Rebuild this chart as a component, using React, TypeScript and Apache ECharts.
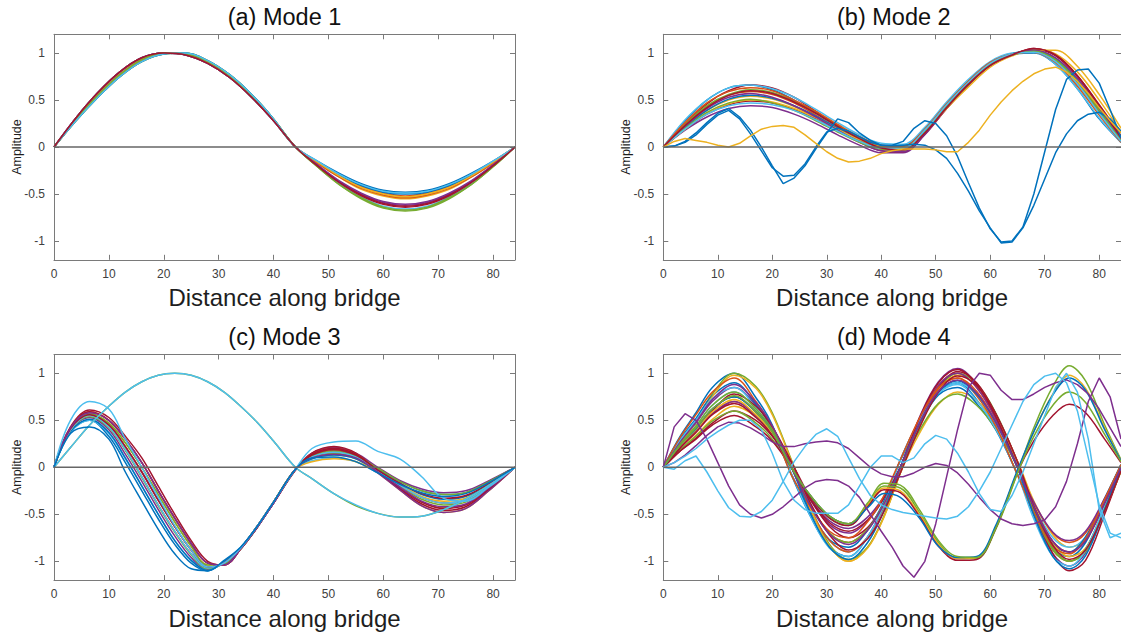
import React, { useEffect, useRef } from "react";
import * as echarts from "echarts";

// MATLAB default colour order
const COLORS = ["#0072BD", "#D95319", "#EDB120", "#7E2F8E", "#77AC30", "#4DBEEE", "#A2142F"];

const X4 = [0, 4, 8, 12, 16, 20, 24, 28, 32, 36, 40, 44, 48, 52, 56, 60, 64, 68, 72, 76, 80, 84];
const X2 = [0, 2, 4, 6, 8, 10, 12, 14, 16, 18, 20, 22, 24, 26, 28, 30, 32, 34, 36, 38, 40, 42, 44, 46, 48, 50, 52, 54, 56, 58, 60, 62, 64, 66, 68, 70, 72, 74, 76, 78, 80, 82, 84];
const X3 = [0, 3, 6.5, 10, 13, 16, 19, 22, 25, 28, 31, 34, 37, 40, 44, 47, 51, 55, 59, 63, 67, 71, 75, 79, 84];
const X5 = [0, 3, 6, 9, 13, 17, 20, 23.5, 27, 30.5, 34, 37.5, 40.5, 43.5, 47, 50.5, 54, 57.5, 61, 65, 68, 71.5, 74.5, 77.5, 81, 84];
const X_TICKS = [0, 10, 20, 30, 40, 50, 60, 70, 80];
const Y_TICKS = [-1, -0.5, 0, 0.5, 1];
const TITLES = ["(a) Mode 1", "(b) Mode 2", "(c) Mode 3", "(d) Mode 4"];
const X_NAME = "Distance along bridge";
const Y_NAME = "Amplitude";

// ---- Mode 1 (x = X4) ----
const mode1Lines = [
  [0, 0.31, 0.58, 0.80, 0.95, 1.0, 0.98, 0.89, 0.74, 0.53, 0.28, 0.0, -0.15, -0.28, -0.39, -0.46, -0.48, -0.46, -0.39, -0.28, -0.15, 0],
  [0, 0.29, 0.55, 0.77, 0.93, 1.0, 0.99, 0.91, 0.76, 0.55, 0.29, 0.0, -0.16, -0.31, -0.42, -0.49, -0.52, -0.49, -0.42, -0.31, -0.16, 0],
  [0, 0.28, 0.53, 0.75, 0.91, 0.99, 1.0, 0.92, 0.77, 0.56, 0.30, 0.0, -0.17, -0.32, -0.45, -0.52, -0.55, -0.52, -0.45, -0.32, -0.17, 0],
  [0, 0.29, 0.55, 0.77, 0.93, 1.0, 0.99, 0.91, 0.76, 0.55, 0.29, 0.0, -0.19, -0.37, -0.50, -0.59, -0.62, -0.59, -0.50, -0.37, -0.19, 0],
  [0, 0.28, 0.53, 0.75, 0.91, 0.99, 1.0, 0.92, 0.77, 0.56, 0.30, 0.0, -0.21, -0.40, -0.55, -0.65, -0.68, -0.65, -0.55, -0.40, -0.21, 0],
  [0, 0.31, 0.58, 0.80, 0.95, 1.0, 0.98, 0.89, 0.74, 0.53, 0.28, 0.0, -0.20, -0.39, -0.53, -0.63, -0.66, -0.63, -0.53, -0.39, -0.20, 0],
  [0, 0.29, 0.55, 0.77, 0.93, 1.0, 0.99, 0.91, 0.76, 0.55, 0.29, 0.0, -0.20, -0.37, -0.51, -0.60, -0.63, -0.60, -0.51, -0.37, -0.20, 0],
  [0, 0.28, 0.53, 0.75, 0.91, 0.99, 1.0, 0.92, 0.77, 0.56, 0.30, 0.0, -0.16, -0.30, -0.41, -0.48, -0.50, -0.48, -0.41, -0.30, -0.16, 0],
  [0, 0.31, 0.58, 0.80, 0.95, 1.0, 0.98, 0.89, 0.74, 0.53, 0.28, 0.0, -0.17, -0.32, -0.44, -0.51, -0.54, -0.51, -0.44, -0.32, -0.17, 0],
  [0, 0.29, 0.55, 0.77, 0.93, 1.0, 0.99, 0.91, 0.76, 0.55, 0.29, 0.0, -0.16, -0.31, -0.43, -0.50, -0.53, -0.50, -0.43, -0.31, -0.16, 0],
  [0, 0.31, 0.58, 0.80, 0.95, 1.0, 0.98, 0.89, 0.74, 0.53, 0.28, 0.0, -0.19, -0.36, -0.49, -0.58, -0.61, -0.58, -0.49, -0.36, -0.19, 0],
  [0, 0.29, 0.55, 0.77, 0.93, 1.0, 0.99, 0.91, 0.76, 0.55, 0.29, 0.0, -0.21, -0.40, -0.54, -0.64, -0.67, -0.64, -0.54, -0.40, -0.21, 0],
  [0, 0.28, 0.53, 0.75, 0.91, 0.99, 1.0, 0.92, 0.77, 0.56, 0.30, 0.0, -0.15, -0.29, -0.40, -0.47, -0.49, -0.47, -0.40, -0.29, -0.15, 0],
  [0, 0.31, 0.58, 0.80, 0.95, 1.0, 0.98, 0.89, 0.74, 0.53, 0.28, 0.0, -0.20, -0.38, -0.52, -0.61, -0.64, -0.61, -0.52, -0.38, -0.20, 0],
];
const mode1Colors = [0, 1, 2, 3, 4, 5, 6, 0, 1, 2, 3, 4, 5, 6];

// ---- Mode 2 (bundle x = X4, outliers x = X2) ----
const mode2Lines = [
  [0, 0.28, 0.50, 0.63, 0.66, 0.61, 0.50, 0.36, 0.22, 0.10, 0.02, 0.01, 0.20, 0.47, 0.71, 0.90, 0.99, 1.00, 0.88, 0.62, 0.30, 0.05],
  [0, 0.24, 0.46, 0.60, 0.66, 0.63, 0.53, 0.38, 0.22, 0.08, -0.02, -0.03, 0.15, 0.42, 0.67, 0.87, 0.98, 1.05, 0.98, 0.76, 0.45, 0.12],
  [0, 0.23, 0.43, 0.55, 0.59, 0.56, 0.47, 0.34, 0.20, 0.08, 0.0, -0.01, 0.18, 0.45, 0.69, 0.89, 0.99, 1.03, 0.94, 0.70, 0.38, 0.08],
  [0, 0.21, 0.39, 0.50, 0.54, 0.51, 0.43, 0.31, 0.18, 0.07, -0.01, -0.02, 0.17, 0.44, 0.68, 0.88, 0.98, 1.04, 0.99, 0.80, 0.50, 0.16],
  [0, 0.18, 0.32, 0.41, 0.44, 0.42, 0.35, 0.25, 0.13, 0.02, -0.06, -0.06, 0.13, 0.41, 0.66, 0.87, 0.98, 1.02, 0.93, 0.68, 0.36, 0.06],
  [0, 0.24, 0.44, 0.56, 0.61, 0.58, 0.49, 0.37, 0.23, 0.10, 0.01, 0.0, 0.19, 0.46, 0.70, 0.89, 0.99, 1.02, 0.92, 0.67, 0.36, 0.07],
  [0, 0.29, 0.50, 0.63, 0.66, 0.62, 0.53, 0.40, 0.26, 0.13, 0.04, 0.03, 0.21, 0.48, 0.72, 0.91, 1.0, 1.01, 0.88, 0.62, 0.31, 0.05],
  [0, 0.19, 0.35, 0.45, 0.49, 0.47, 0.40, 0.30, 0.18, 0.06, -0.04, -0.05, 0.14, 0.41, 0.66, 0.87, 0.98, 1.04, 0.97, 0.75, 0.43, 0.10],
  [0, 0.21, 0.39, 0.51, 0.55, 0.52, 0.44, 0.33, 0.20, 0.08, -0.01, -0.02, 0.17, 0.44, 0.68, 0.88, 0.99, 1.03, 0.94, 0.71, 0.40, 0.08],
  [0, 0.26, 0.47, 0.59, 0.63, 0.60, 0.50, 0.38, 0.24, 0.11, 0.02, 0.01, 0.19, 0.46, 0.70, 0.90, 0.99, 1.01, 0.90, 0.65, 0.34, 0.05],
  [0, 0.19, 0.36, 0.46, 0.50, 0.48, 0.41, 0.31, 0.19, 0.08, 0.0, -0.01, 0.15, 0.41, 0.64, 0.85, 0.97, 1.03, 1.03, 0.86, 0.56, 0.20],
  [0, 0.22, 0.41, 0.53, 0.57, 0.53, 0.44, 0.32, 0.18, 0.05, -0.04, -0.05, 0.14, 0.42, 0.67, 0.87, 0.98, 1.03, 0.95, 0.73, 0.41, 0.08],
  [0, 0.20, 0.37, 0.47, 0.51, 0.47, 0.39, 0.28, 0.16, 0.05, -0.02, -0.03, 0.16, 0.43, 0.67, 0.88, 0.98, 1.02, 0.93, 0.70, 0.39, 0.07],
  [0, 0.19, 0.35, 0.44, 0.47, 0.45, 0.39, 0.29, 0.17, 0.06, -0.01, -0.01, 0.18, 0.45, 0.69, 0.89, 0.99, 1.01, 0.91, 0.67, 0.36, 0.06],
  [0, 0.23, 0.42, 0.55, 0.60, 0.57, 0.48, 0.36, 0.22, 0.09, -0.01, -0.03, 0.15, 0.42, 0.67, 0.87, 0.98, 1.05, 0.98, 0.76, 0.44, 0.10],
];
const mode2Colors = [0, 6, 1, 2, 3, 4, 5, 6, 0, 1, 2, 3, 4, 5, 6];
const mode2Outliers = [
  [0, 0.01, 0.06, 0.15, 0.26, 0.36, 0.41, 0.32, 0.18, 0.0, -0.2, -0.39, -0.33, -0.2, -0.02, 0.15, 0.30, 0.26, 0.15, 0.07, 0.02, 0.02, 0.06, 0.20, 0.28, 0.25, 0.12, -0.10, -0.38, -0.65, -0.87, -1.01, -1.00, -0.85, -0.50, -0.05, 0.40, 0.72, 0.82, 0.83, 0.68, 0.40, 0.10],
  [0, 0.01, 0.05, 0.13, 0.24, 0.34, 0.39, 0.30, 0.14, -0.04, -0.22, -0.31, -0.30, -0.18, 0.0, 0.16, 0.20, 0.17, 0.11, 0.05, 0.02, 0.01, 0.02, 0.03, 0.02, -0.03, -0.12, -0.28, -0.47, -0.68, -0.86, -1.02, -1.01, -0.86, -0.62, -0.34, -0.06, 0.14, 0.28, 0.35, 0.37, 0.30, 0.17],
  [0, 0.06, 0.09, 0.07, 0.05, 0.02, 0.0, 0.04, 0.12, 0.19, 0.22, 0.23, 0.21, 0.13, 0.04, -0.05, -0.12, -0.16, -0.15, -0.12, -0.07, -0.04, -0.02, -0.02, -0.02, -0.03, -0.05, -0.05, 0.05, 0.18, 0.34, 0.48, 0.60, 0.70, 0.78, 0.83, 0.85, 0.80, 0.70, 0.57, 0.42, 0.28, 0.15],
];
const mode2OutlierColors = [0, 0, 2];

// ---- Mode 3 (x = X3) ----
const mode3Lines = [
  [0, 0.38, 0.50, 0.33, 0.05, -0.25, -0.55, -0.82, -1.02, -1.10, -1.00, -0.86, -0.64, -0.38, -0.02, 0.13, 0.19, 0.13, -0.02, -0.15, -0.25, -0.29, -0.27, -0.16, 0],
  [0, 0.40, 0.55, 0.43, 0.19, -0.10, -0.40, -0.68, -0.92, -1.07, -1.02, -0.86, -0.63, -0.37, -0.02, 0.13, 0.18, 0.13, -0.05, -0.22, -0.37, -0.43, -0.40, -0.24, 0],
  [0, 0.41, 0.57, 0.47, 0.26, 0.0, -0.29, -0.58, -0.84, -1.04, -1.03, -0.87, -0.64, -0.37, -0.02, 0.09, 0.13, 0.09, -0.06, -0.24, -0.41, -0.48, -0.44, -0.26, 0],
  [0, 0.40, 0.53, 0.40, 0.14, -0.15, -0.45, -0.73, -0.96, -1.09, -1.01, -0.86, -0.63, -0.38, -0.02, 0.15, 0.21, 0.15, 0.0, -0.14, -0.23, -0.27, -0.25, -0.15, 0],
  [0, 0.39, 0.54, 0.42, 0.18, -0.11, -0.41, -0.69, -0.93, -1.08, -1.02, -0.86, -0.63, -0.37, -0.02, 0.11, 0.15, 0.10, -0.05, -0.20, -0.34, -0.40, -0.37, -0.22, 0],
  [0, 0.37, 0.50, 0.36, 0.09, -0.20, -0.50, -0.78, -0.99, -1.10, -1.00, -0.85, -0.63, -0.37, -0.02, 0.07, 0.10, 0.06, -0.06, -0.19, -0.32, -0.38, -0.35, -0.21, 0],
  [0, 0.43, 0.61, 0.53, 0.33, 0.10, -0.20, -0.50, -0.78, -1.00, -1.04, -0.87, -0.64, -0.38, -0.03, 0.15, 0.22, 0.15, -0.04, -0.23, -0.39, -0.46, -0.42, -0.25, 0],
  [0, 0.38, 0.51, 0.37, 0.10, -0.20, -0.50, -0.78, -0.99, -1.10, -1.00, -0.86, -0.63, -0.37, -0.02, 0.09, 0.13, 0.09, -0.04, -0.17, -0.29, -0.34, -0.31, -0.19, 0],
  [0, 0.42, 0.59, 0.50, 0.30, 0.05, -0.25, -0.54, -0.81, -1.02, -1.04, -0.87, -0.64, -0.37, -0.02, 0.14, 0.20, 0.14, -0.03, -0.19, -0.32, -0.38, -0.35, -0.21, 0],
  [0, 0.40, 0.55, 0.45, 0.22, -0.05, -0.35, -0.63, -0.88, -1.06, -1.02, -0.86, -0.63, -0.37, -0.02, 0.06, 0.09, 0.06, -0.05, -0.18, -0.31, -0.36, -0.33, -0.20, 0],
  [0, 0.41, 0.56, 0.45, 0.22, -0.05, -0.35, -0.63, -0.88, -1.06, -1.02, -0.86, -0.64, -0.38, -0.02, 0.12, 0.17, 0.12, -0.06, -0.24, -0.41, -0.48, -0.44, -0.26, 0],
  [0, 0.41, 0.57, 0.47, 0.26, 0.0, -0.29, -0.58, -0.84, -1.04, -1.03, -0.87, -0.64, -0.37, -0.02, 0.12, 0.17, 0.12, -0.01, -0.15, -0.25, -0.29, -0.27, -0.16, 0],
  [0, 0.42, 0.59, 0.50, 0.30, 0.05, -0.25, -0.54, -0.81, -1.02, -1.04, -0.87, -0.64, -0.38, -0.03, 0.14, 0.20, 0.14, -0.04, -0.22, -0.37, -0.44, -0.40, -0.24, 0],
  [0, 0.40, 0.55, 0.43, 0.19, -0.10, -0.40, -0.68, -0.92, -1.07, -1.02, -0.86, -0.63, -0.37, -0.02, 0.11, 0.16, 0.11, -0.04, -0.19, -0.32, -0.38, -0.35, -0.21, 0],
  [0, 0.41, 0.56, 0.45, 0.22, -0.05, -0.35, -0.63, -0.88, -1.06, -1.02, -0.86, -0.63, -0.37, -0.02, 0.13, 0.19, 0.13, -0.03, -0.17, -0.28, -0.33, -0.30, -0.18, 0],
  [0, 0.42, 0.58, 0.50, 0.30, 0.05, -0.25, -0.54, -0.81, -1.02, -1.04, -0.87, -0.64, -0.38, -0.02, 0.10, 0.14, 0.10, -0.05, -0.21, -0.36, -0.42, -0.39, -0.23, 0],
  [0, 0.21, 0.45, 0.65, 0.80, 0.91, 0.98, 1.0, 0.98, 0.91, 0.80, 0.65, 0.48, 0.28, 0, -0.12, -0.28, -0.41, -0.49, -0.53, -0.52, -0.45, -0.34, -0.20, 0],
  [0, 0.21, 0.45, 0.65, 0.80, 0.91, 0.98, 1.0, 0.98, 0.91, 0.80, 0.65, 0.48, 0.28, 0, -0.12, -0.28, -0.40, -0.49, -0.53, -0.52, -0.45, -0.34, -0.20, 0],
  [0, 0.50, 0.70, 0.62, 0.30, 0.0, -0.32, -0.62, -0.88, -1.06, -1.02, -0.86, -0.63, -0.37, -0.02, 0.20, 0.27, 0.28, 0.17, 0.09, -0.10, -0.33, -0.36, -0.22, 0],
  [0, 0.36, 0.43, 0.30, -0.05, -0.36, -0.66, -0.92, -1.08, -1.10, -0.99, -0.85, -0.63, -0.37, -0.02, 0.10, 0.11, 0.06, -0.06, -0.18, -0.27, -0.31, -0.28, -0.17, 0],
];
const mode3Colors = [0, 1, 2, 3, 4, 5, 6, 0, 1, 2, 3, 4, 6, 5, 6, 3, 4, 5, 5, 0];

// ---- Mode 4 (bundle x = X5, outliers x = X2) ----
const mode4Lines = [
  [0, 0.32, 0.58, 0.85, 1.0, 0.74, 0.45, -0.08, -0.52, -0.85, -0.95, -0.74, -0.4, 0.08, 0.5, 0.8, 0.9, 0.72, 0.42, -0.08, -0.5, -0.86, -0.95, -0.8, -0.35, 0.03],
  [0, 0.21, 0.39, 0.57, 0.7, 0.55, 0.35, 0, -0.4, -0.7, -0.8, -0.66, -0.38, 0, 0.5, 0.87, 1.0, 0.85, 0.52, 0, -0.47, -0.88, -1.0, -0.87, -0.42, 0],
  [0, 0.18, 0.34, 0.51, 0.65, 0.54, 0.36, 0.06, -0.44, -0.84, -1.0, -0.85, -0.52, -0.06, 0.36, 0.67, 0.8, 0.71, 0.46, 0.06, -0.36, -0.72, -0.85, -0.77, -0.4, -0.03],
  [0, 0.26, 0.47, 0.7, 0.85, 0.66, 0.43, 0, -0.35, -0.61, -0.7, -0.57, -0.33, 0, 0.53, 0.91, 1.05, 0.89, 0.55, 0, -0.49, -0.92, -1.05, -0.91, -0.44, 0],
  [0, 0.25, 0.5, 0.78, 1.0, 0.86, 0.58, 0.08, -0.42, -0.82, -0.98, -0.85, -0.52, -0.06, 0.44, 0.83, 1.0, 0.89, 0.58, 0.06, -0.42, -0.85, -1.0, -0.9, -0.47, -0.04],
  [0, 0.24, 0.44, 0.66, 0.8, 0.62, 0.4, 0, -0.45, -0.78, -0.9, -0.74, -0.42, 0, 0.45, 0.78, 0.9, 0.77, 0.47, 0, -0.4, -0.75, -0.85, -0.74, -0.36, 0],
  [0, 0.17, 0.31, 0.47, 0.6, 0.5, 0.33, 0.05, -0.33, -0.63, -0.75, -0.64, -0.39, -0.05, 0.46, 0.85, 1.02, 0.9, 0.57, 0.06, -0.45, -0.92, -1.1, -0.99, -0.5, -0.03],
  [0, 0.29, 0.52, 0.76, 0.9, 0.67, 0.4, -0.07, -0.47, -0.77, -0.85, -0.67, -0.36, 0.07, 0.46, 0.77, 0.85, 0.68, 0.4, -0.07, -0.46, -0.82, -0.9, -0.74, -0.33, 0.03],
  [0, 0.23, 0.41, 0.62, 0.75, 0.59, 0.38, 0, -0.45, -0.78, -0.9, -0.74, -0.42, 0, 0.48, 0.83, 0.95, 0.81, 0.49, 0, -0.38, -0.7, -0.8, -0.7, -0.34, 0],
  [0, 0.24, 0.48, 0.75, 0.98, 0.84, 0.56, 0.07, -0.44, -0.84, -1.0, -0.86, -0.53, -0.06, 0.43, 0.81, 0.98, 0.87, 0.56, 0.06, -0.4, -0.8, -0.95, -0.86, -0.45, -0.04],
  [0, 0.21, 0.39, 0.57, 0.7, 0.55, 0.35, 0, -0.33, -0.57, -0.65, -0.53, -0.31, 0, 0.5, 0.87, 1.0, 0.85, 0.52, 0, -0.37, -0.69, -0.78, -0.68, -0.33, 0],
  [0, 0.18, 0.33, 0.49, 0.6, 0.47, 0.3, 0, -0.4, -0.7, -0.8, -0.66, -0.38, 0, 0.39, 0.68, 0.78, 0.66, 0.41, 0, -0.47, -0.88, -1.0, -0.87, -0.42, 0],
  [0, 0.28, 0.5, 0.73, 0.85, 0.63, 0.37, -0.07, -0.52, -0.86, -0.95, -0.74, -0.4, 0.08, 0.49, 0.79, 0.88, 0.71, 0.41, -0.08, -0.55, -0.95, -1.05, -0.88, -0.4, 0.03],
  [0, 0.17, 0.3, 0.45, 0.55, 0.43, 0.28, 0, -0.34, -0.59, -0.68, -0.56, -0.32, 0, 0.52, 0.9, 1.04, 0.88, 0.54, 0, -0.42, -0.79, -0.9, -0.78, -0.38, 0],
  [0, 0.31, 0.56, 0.8, 0.95, 0.7, 0.42, -0.08, -0.42, -0.68, -0.75, -0.58, -0.3, 0.08, 0.52, 0.85, 0.95, 0.76, 0.44, -0.08, -0.48, -0.84, -0.92, -0.76, -0.34, 0.03],
  [0, 0.23, 0.41, 0.62, 0.75, 0.59, 0.38, 0, -0.49, -0.85, -0.98, -0.8, -0.46, 0, 0.46, 0.8, 0.92, 0.78, 0.48, 0, -0.51, -0.95, -1.08, -0.94, -0.45, 0],
  [0, 0.2, 0.4, 0.6, 0.78, 0.65, 0.43, 0.06, -0.38, -0.72, -0.88, -0.76, -0.47, -0.06, 0.42, 0.8, 0.97, 0.87, 0.57, 0.06, -0.41, -0.83, -0.98, -0.88, -0.46, -0.04],
  [0, 0.26, 0.48, 0.72, 0.88, 0.69, 0.44, 0, -0.41, -0.71, -0.82, -0.67, -0.39, 0, 0.47, 0.81, 0.93, 0.79, 0.48, 0, -0.42, -0.79, -0.9, -0.78, -0.38, 0],
  [0, 0.24, 0.44, 0.66, 0.8, 0.62, 0.4, 0, -0.31, -0.54, -0.62, -0.4, -0.2, -0.22, -0.48, -0.8, -0.97, -0.97, -0.66, -0.06, 0.42, 0.86, 1.08, 0.92, 0.45, 0.08],
  [0, 0.22, 0.4, 0.59, 0.72, 0.56, 0.36, 0, -0.3, -0.52, -0.6, -0.4, -0.22, -0.25, -0.5, -0.82, -0.97, -0.96, -0.64, -0.05, 0.38, 0.78, 0.98, 0.84, 0.42, 0.07],
  [0, 0.2, 0.37, 0.56, 0.68, 0.53, 0.34, 0, -0.31, -0.54, -0.62, -0.42, -0.24, -0.27, -0.52, -0.84, -0.99, -0.98, -0.65, -0.05, 0.28, 0.55, 0.67, 0.58, 0.3, 0.05],
  [0, 0.23, 0.41, 0.62, 0.75, 0.59, 0.38, 0, -0.3, -0.52, -0.6, -0.43, -0.28, -0.32, -0.54, -0.84, -0.96, -0.95, -0.62, -0.03, 0.38, 0.77, 0.95, 0.82, 0.4, 0.07],
  [0, 0.23, 0.42, 0.62, 0.76, 0.59, 0.38, 0, -0.3, -0.52, -0.6, -0.38, -0.17, -0.19, -0.45, -0.78, -0.95, -0.96, -0.65, -0.06, 0.33, 0.66, 0.8, 0.69, 0.35, 0.06],
];
const mode4Colors = [0, 1, 2, 3, 4, 5, 6, 0, 1, 2, 3, 4, 5, 6, 1, 0, 6, 3, 4, 2, 6, 0, 4];
const mode4Outliers = [
  [0, 0.43, 0.57, 0.5, 0.3, 0.05, -0.2, -0.4, -0.5, -0.54, -0.5, -0.42, -0.32, -0.22, -0.15, -0.13, -0.14, -0.2, -0.32, -0.5, -0.68, -0.85, -1.05, -1.17, -1.0, -0.6, -0.1, 0.4, 0.85, 1.0, 0.98, 0.82, 0.72, 0.72, 0.78, 0.85, 0.9, 0.93, 0.88, 0.78, 0.62, 0.42, 0.22],
  [0, 0.05, 0.13, 0.23, 0.34, 0.43, 0.48, 0.47, 0.42, 0.35, 0.27, 0.22, 0.22, 0.25, 0.27, 0.28, 0.26, 0.2, 0.1, 0.0, -0.07, -0.1, -0.1, -0.06, 0.0, 0.04, 0.02, -0.06, -0.18, -0.32, -0.45, -0.55, -0.6, -0.62, -0.6, -0.56, -0.42, -0.15, 0.25, 0.7, 0.95, 0.75, 0.3],
  [0, -0.02, 0.07, 0.12, -0.05, -0.25, -0.43, -0.52, -0.53, -0.47, -0.35, -0.15, 0.06, 0.22, 0.35, 0.41, 0.33, 0.1, -0.12, -0.3, -0.4, -0.45, -0.48, -0.5, -0.52, -0.54, -0.55, -0.52, -0.42, -0.25, -0.05, 0.2, 0.45, 0.7, 0.88, 0.97, 1.0, 0.9, 0.6, 0.1, -0.4, -0.7, -0.75],
  [0, 0.05, 0.12, 0.2, 0.3, 0.38, 0.45, 0.5, 0.5, 0.4, 0.15, -0.15, -0.35, -0.45, -0.49, -0.49, -0.49, -0.4, -0.2, 0.0, 0.12, 0.12, 0.05, 0.1, 0.25, 0.34, 0.3, 0.15, -0.05, -0.28, -0.45, -0.47, -0.3, -0.05, 0.25, 0.55, 0.85, 1.0, 0.8, 0.3, -0.45, -0.75, -0.7],
];
const mode4OutlierColors = [3, 3, 5, 5];

const GRIDS = [
  { left: 54, top: 34.3, width: 461, height: 225.5 },
  { left: 663.3, top: 34.3, width: 462, height: 225.5 },
  { left: 54, top: 354.5, width: 461, height: 225.6 },
  { left: 663.3, top: 354.5, width: 462, height: 225.6 },
];

const FONT = "Liberation Sans, Arial, Helvetica, sans-serif";
const AXIS_COLOR = "#7a7a7a";
const LABEL_COLOR = "#404040";

function buildOption() {
  const series: any[] = [];
  const addLines = (p: number, xs: number[], rows: number[][], colorIdx: number[], smooth: boolean) => {
    rows.forEach((ys, i) => {
      series.push({
        type: "line",
        xAxisIndex: p * 2,
        yAxisIndex: p * 2,
        data: xs.map((x, j) => [x, ys[j]]),
        symbol: "none",
        smooth: smooth ? 0.35 : false,
        silent: true,
        z: 2,
        lineStyle: { width: 1.5, color: COLORS[colorIdx[i] % COLORS.length] },
      });
    });
  };
  addLines(0, X4, mode1Lines, mode1Colors, true);
  addLines(1, X4, mode2Lines, mode2Colors, true);
  addLines(1, X2, mode2Outliers, mode2OutlierColors, false);
  addLines(2, X3, mode3Lines, mode3Colors, true);
  addLines(3, X5, mode4Lines, mode4Colors, true);
  addLines(3, X2, mode4Outliers, mode4OutlierColors, false);
  for (let p = 0; p < 4; p++) {
    series.push({
      type: "line",
      xAxisIndex: p * 2,
      yAxisIndex: p * 2,
      data: [[0, 0], [84, 0]],
      symbol: "none",
      silent: true,
      z: 5,
      lineStyle: { width: 1.5, color: "#666666" },
    });
  }

  const xAxis: any[] = [];
  const yAxis: any[] = [];
  for (let p = 0; p < 4; p++) {
    const lineStyle = { color: AXIS_COLOR, width: 1 };
    xAxis.push({
      gridIndex: p, type: "value", min: 0, max: 84, position: "bottom",
      axisLine: { show: true, onZero: false, lineStyle },
      axisTick: { show: true, inside: true, length: 5, customValues: X_TICKS, lineStyle },
      axisLabel: { customValues: X_TICKS, fontSize: 12, color: LABEL_COLOR, margin: 8, fontFamily: FONT },
      splitLine: { show: false },
      name: X_NAME, nameLocation: "middle", nameGap: 26, nameMoveOverlap: false,
      nameTextStyle: { fontSize: 24, color: "#1e1e1e", fontFamily: FONT },
    });
    xAxis.push({
      gridIndex: p, type: "value", min: 0, max: 84, position: "top",
      axisLine: { show: true, onZero: false, lineStyle },
      axisTick: { show: true, inside: true, length: 5, customValues: X_TICKS, lineStyle },
      axisLabel: { show: false },
      splitLine: { show: false },
    });
    yAxis.push({
      gridIndex: p, type: "value", min: -1.2, max: 1.2, position: "left",
      axisLine: { show: true, onZero: false, lineStyle },
      axisTick: { show: true, inside: true, length: 5, customValues: Y_TICKS, lineStyle },
      axisLabel: { customValues: Y_TICKS, fontSize: 12, color: LABEL_COLOR, margin: 9, fontFamily: FONT },
      splitLine: { show: false },
      name: Y_NAME, nameLocation: "middle", nameGap: 31, nameMoveOverlap: false,
      nameTextStyle: { fontSize: 12.5, color: "#1e1e1e", fontFamily: FONT },
    });
    yAxis.push({
      gridIndex: p, type: "value", min: -1.2, max: 1.2, position: "right",
      axisLine: { show: true, onZero: false, lineStyle },
      axisTick: { show: true, inside: true, length: 5, customValues: Y_TICKS, lineStyle },
      axisLabel: { show: false },
      splitLine: { show: false },
    });
  }

  const title = TITLES.map((t, p) => ({
    text: t,
    left: GRIDS[p].left + (p % 2 === 0 ? GRIDS[p].width / 2 : 230.5),
    top: p < 2 ? 5 : 325,
    textAlign: "center",
    padding: 0,
    textStyle: { fontSize: 23.5, fontWeight: "normal", color: "#111111", fontFamily: FONT },
  }));

  return {
    animation: false,
    backgroundColor: "#ffffff",
    title,
    grid: GRIDS.map((g) => ({ ...g, show: false, containLabel: false })),
    xAxis,
    yAxis,
    series,
  };
}

export default function App() {
  const ref = useRef<HTMLDivElement>(null);
  useEffect(() => {
    if (!ref.current) return;
    const chart = echarts.init(ref.current, undefined, { renderer: "svg" });
    chart.setOption(buildOption() as any);
    return () => chart.dispose();
  }, []);
  return (
    <div
      ref={ref}
      style={{ position: "absolute", left: 0, top: 0, width: 1121, height: 634, background: "#fff" }}
    />
  );
}
